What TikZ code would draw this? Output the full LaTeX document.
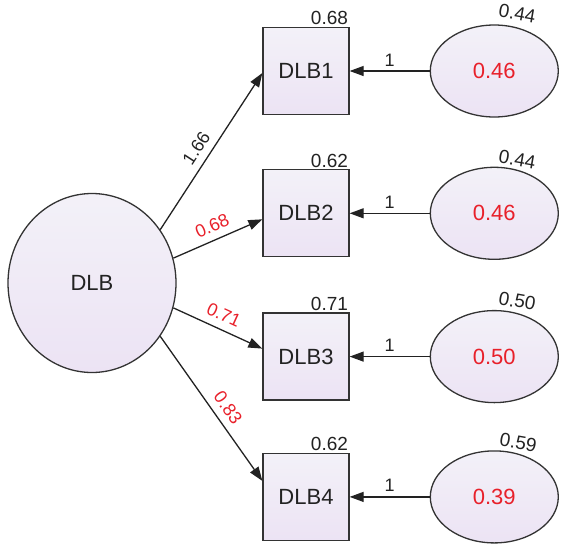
\documentclass[tikz,border=0pt]{standalone}
\usepackage{fontspec}
\setmainfont{Liberation Sans}
\usepackage{tikz}
\usetikzlibrary{shapes.geometric,arrows.meta,positioning}
\definecolor{lineGray}{HTML}{333333}
\definecolor{textDark}{HTML}{222222}
\definecolor{fillTop}{HTML}{F3F1F8}
\definecolor{fillBot}{HTML}{ECE3F4}
\definecolor{coefRed}{HTML}{E8202A}
\newcommand{\fsz}[1]{\fontsize{#1}{#1}\selectfont}

\begin{document}
\begin{tikzpicture}[
    x=1pt, y=-1pt,
    node distance=54pt,
    font=\fsz{22}, text=textDark,
    latent/.style={ellipse, draw=lineGray, line width=1.3pt, top color=fillTop, bottom color=fillBot, minimum width=168pt, minimum height=179pt, inner sep=0pt},
    obs/.style={rectangle, draw=lineGray, line width=1.3pt, top color=fillTop, bottom color=fillBot, minimum width=86pt, minimum height=87pt, inner sep=0pt},
    err/.style={ellipse, draw=lineGray, line width=1.3pt, top color=fillTop, bottom color=fillBot, minimum width=128pt, minimum height=92pt, inner sep=0pt, text=coefRed, font=\fsz{22}},
    wire/.style={line width=1.3pt, draw=textDark, -{Triangle[length=14pt, width=10pt]}},
    coef/.style={font=\fsz{18}, sloped, above=4pt},
    boxvar/.style={font=\fsz{19}, anchor=south east, inner sep=1.5pt},
    errvar/.style={font=\fsz{19}, rotate=-10},
    one/.style={font=\fsz{18}, above=1pt}
  ]
    \useasboundingbox (0,0) rectangle (567,552);

    % factor and indicators
    \node[latent] (dlb) at (92,283) {DLB};
    \node[obs] (b1) at (306,71) {DLB1};
    \node[obs, below=54pt of b1] (b2) {DLB2};
    \node[obs, below=55pt of b2] (b3) {DLB3};
    \node[obs, below=52pt of b3] (b4) {DLB4};

    % error terms
    \node[err, right=80pt of b1] (e1) {0.46};
    \node[err, right=80pt of b2] (e2) {0.46};
    \node[err, right=80pt of b3] (e3) {0.50};
    \node[err, right=80pt of b4] (e4) {0.39};

    % variances
    \node[boxvar] at (b1.north east) {0.68};
    \node[boxvar] at (b2.north east) {0.62};
    \node[boxvar] at (b3.north east) {0.71};
    \node[boxvar] at (b4.north east) {0.62};
    \node[errvar] at ([shift={(23,-11)}]e1.north) {0.44};
    \node[errvar] at ([shift={(23,-7)}]e2.north) {0.44};
    \node[errvar] at ([shift={(23,-9)}]e3.north) {0.50};
    \node[errvar] at ([shift={(24,-8)}]e4.north) {0.59};

    % loadings
    \draw[wire] (dlb.38) -- node[coef, pos=0.47] {1.66} ([yshift=-2pt]b1.west);
    \draw[wire] (dlb.17) -- node[coef, text=coefRed] {0.68} ([yshift=-6pt]b2.west);
    \draw[wire] (dlb.-17) -- node[coef, text=coefRed] {0.71} ([yshift=8pt]b3.west);
    \draw[wire] (dlb.-38) -- node[coef, pos=0.55, text=coefRed] {0.83} ([yshift=16pt]b4.west);

    % error paths
    \draw[wire] (e1.west) -- node[one] {1} (e1.west -| b1.east);
    \draw[wire] (e2.west) -- node[one] {1} (e2.west -| b2.east);
    \draw[wire] (e3.west) -- node[one] {1} (e3.west -| b3.east);
    \draw[wire] (e4.west) -- node[one] {1} (e4.west -| b4.east);
  \end{tikzpicture}
\end{document}
